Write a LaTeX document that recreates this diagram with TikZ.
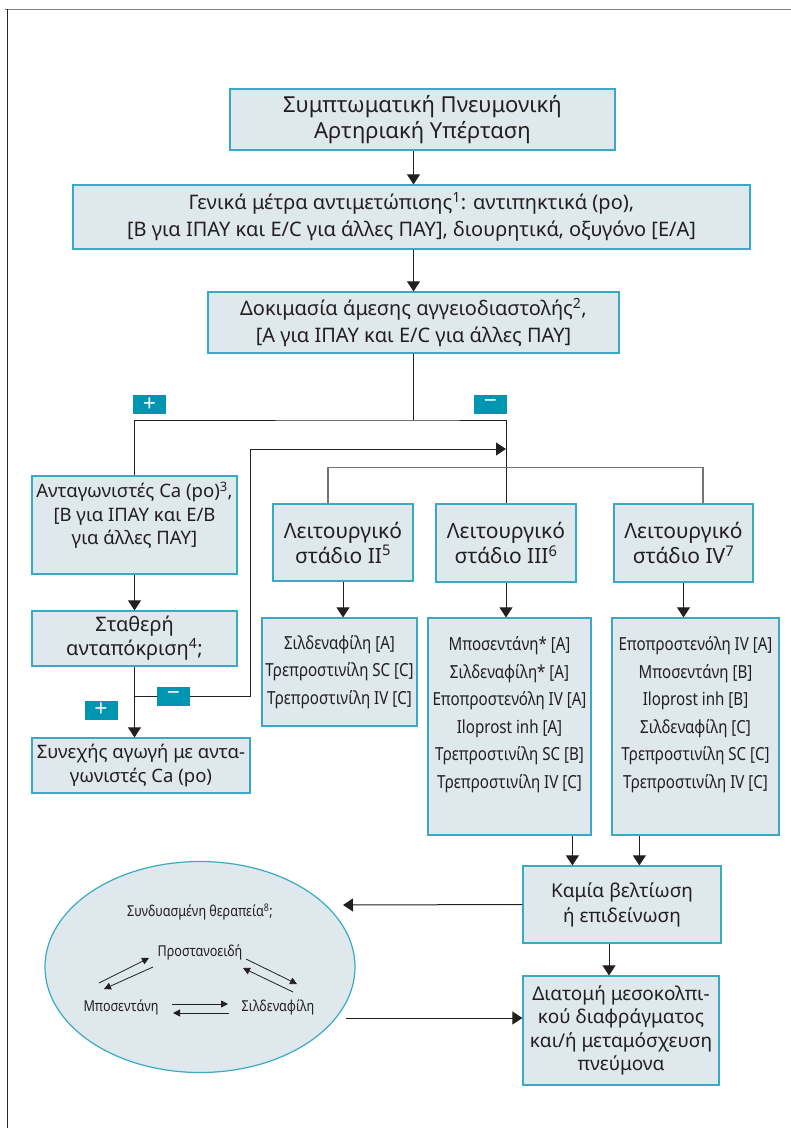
\documentclass[tikz,border=0pt]{standalone}
\usepackage{fontspec}
\setmainfont{Noto Sans}
\newfontfamily\narrowfont[FakeStretch=0.84]{Noto Sans}
\usetikzlibrary{arrows.meta,shapes.geometric}
\definecolor{boxfill}{HTML}{DFE8ED}
\definecolor{boxline}{HTML}{3AAAC4}
\definecolor{badgefill}{HTML}{0096B1}
\definecolor{ink}{HTML}{231F20}
\begin{document}
\begin{tikzpicture}[x=1pt,y=-1pt,
  box/.style={draw=boxline,line width=1.2pt,fill=boxfill,text=ink,align=center,inner sep=2pt,font=\fontsize{21}{25}\selectfont},
  listbox/.style={box,font=\narrowfont\fontsize{18}{27.5}\selectfont},
  small/.style={text=ink,inner sep=2pt,font=\narrowfont\fontsize{15}{18}\selectfont},
  badge/.style={fill=badgefill,text=white,minimum width=33pt,minimum height=19pt,inner sep=0pt,font=\bfseries\fontsize{23}{23}\selectfont},
  wire/.style={line width=1pt,draw=ink},
  greywire/.style={line width=1.4pt,draw=black!55},
  arr/.style={wire,-{Triangle[width=13pt,length=10pt]}},
  sarr/.style={line width=0.8pt,draw=ink,-{Triangle[width=7pt,length=7pt]}}]
\useasboundingbox (0,0) rectangle (791,1128);
\draw[black!50,line width=1pt] (5,9) -- (791,9);
\draw[black!85,line width=1pt] (7,9) -- (7,1128);

% main column
\node[box,minimum width=385pt,minimum height=61pt,font=\fontsize{22}{26}\selectfont] (b1) at (422.5,119.5)
  {Συμπτωματική Πνευμονική\\Αρτηριακή Υπέρταση};
\node[box,minimum width=677pt,minimum height=64pt,font=\fontsize{20}{27}\selectfont] (b2) at (411.5,217)
  {Γενικά μέτρα αντιμετώπισης\textsuperscript{1}: αντιπηκτικά (po),\\{}%
   [B για ΙΠΑΥ και E/C για άλλες ΠΑΥ], διουρητικά, οξυγόνο [E/A]};
\node[box,minimum width=411pt,minimum height=61pt,font=\fontsize{20}{27}\selectfont] (b3) at (413.5,322.5)
  {Δοκιμασία άμεσης αγγειοδιαστολής\textsuperscript{2},\\{}%
   [A για ΙΠΑΥ και E/C για άλλες ΠΑΥ]};

% left branch
\node[box,minimum width=205pt,minimum height=98pt,font=\fontsize{18.5}{23.5}\selectfont] (ca) at (134.5,525)
  {Ανταγωνιστές Ca (po)\textsuperscript{3},\\{}[B για ΙΠΑΥ και E/B\\για άλλες ΠΑΥ]\\\mbox{}};
\node[box,minimum width=205pt,minimum height=55pt,font=\fontsize{20}{24}\selectfont] (st) at (134.5,638.5)
  {Σταθερή\\ανταπόκριση\textsuperscript{4};};
\node[box,minimum width=218pt,minimum height=55pt,font=\fontsize{18.5}{24}\selectfont] (cont) at (141,765.5)
  {Συνεχής αγωγή με αντα-\\γωνιστές Ca (po)};

% functional stages
\node[box,minimum width=140pt,minimum height=77pt] (s2) at (343,542.5)
  {Λειτουργικό\\στάδιο II\textsuperscript{5}};
\node[box,minimum width=140pt,minimum height=78pt] (s3) at (506,543)
  {Λειτουργικό\\στάδιο III\textsuperscript{6}};
\node[box,minimum width=139pt,minimum height=78pt] (s4) at (683.5,543)
  {Λειτουργικό\\στάδιο IV\textsuperscript{7}};
\node[listbox,minimum width=155pt,minimum height=108pt] (l2) at (339.5,672)
  {Σιλδεναφίλη [A]\\Τρεπροστινίλη SC [C]\\Τρεπροστινίλη IV [C]};
\node[listbox,minimum width=163pt,minimum height=217pt] (l3) at (509.5,726.5)
  {Μποσεντάνη* [A]\\Σιλδεναφίλη* [A]\\Εποπροστενόλη IV [A]\\Iloprost inh [A]\\
   Τρεπροστινίλη SC [B]\\Τρεπροστινίλη IV [C]\\\mbox{}};
\node[listbox,minimum width=167pt,minimum height=217pt] (l4) at (695.5,726.5)
  {Εποπροστενόλη IV [A]\\Μποσεντάνη [B]\\Iloprost inh [B]\\Σιλδεναφίλη [C]\\
   Τρεπροστινίλη SC [C]\\Τρεπροστινίλη IV [C]\\\mbox{}};

% bottom
\node[box,minimum width=198pt,minimum height=77pt,font=\fontsize{19}{25}\selectfont] (nb) at (622,904.5)
  {Καμία βελτίωση\\ή επιδείνωση};
\node[box,minimum width=196pt,minimum height=109pt,font=\fontsize{19}{23.5}\selectfont] (tr) at (621,1030.5)
  {Διατομή μεσοκολπι-\\κού διαφράγματος\\και/ή μεταμόσχευση\\πνεύμονα};
\node[ellipse,draw=boxline,line width=1.2pt,fill=boxfill,minimum width=310pt,minimum height=211pt,inner sep=0pt] (comb) at (200,967) {};
\node[small] (combt) at (200,912) {Συνδυασμένη θεραπεία\textsuperscript{8};};
\node[small] (prosta) at (200,952) {Προστανοειδή};
\node[small] (bos) at (121,1007) {Μποσεντάνη};
\node[small] (sil) at (278,1007) {Σιλδεναφίλη};

% connectors
\draw[arr] (b1.south -| b3.south) -- (b2.north -| b3.south);
\draw[arr] (b2.south -| b3.south) -- (b3.north);
\coordinate (fork) at (b3.south |- 0,420);
\draw[wire] (b3.south) -- (fork);
\draw[wire] (ca.north) |- (fork) -| (s3.north);
\coordinate (s2top) at ([xshift=-15pt]s2.north);
\coordinate (s4top) at ([xshift=19.5pt]s4.north);
\draw[greywire] (s2top) -- ++(0,-36) -| (s4top);
\draw[arr] (ca.south) -- (st.north);
\draw[arr] (st.south) -- (st.south |- cont.north);
\coordinate (back) at (st.south |- 0,696);
\draw[arr] (back) -- ++(116,0) |- (s3.north |- 0,449);
\draw[arr] (s2.south) -- (s2.south |- l2.north);
\draw[arr] (s3.south) -- (s3.south |- l3.north);
\draw[arr] (s4.south) -- (s4.south |- l4.north);
\coordinate (in3) at ([xshift=50pt]nb.north west);
\coordinate (in4) at ([xshift=117pt]nb.north west);
\draw[arr] (l3.south -| in3) -- (in3);
\draw[arr] (l4.south -| in4) -- (in4);
\coordinate (tocomb) at (343,905);
\draw[arr] (nb.west) -- (tocomb);
\coordinate (down) at ([xshift=-13pt]nb.south);
\draw[arr] (down) -- (down |- tr.north);
\coordinate (fromcomb) at (346,1018);
\draw[arr] (fromcomb) -- (fromcomb -| tr.west);

% combination arrows
\draw[sarr] ([shift={(-22,-24)}]bos.center) -- ([shift={(-51,6)}]prosta.center);
\draw[sarr] ([shift={(-47,15)}]prosta.center) -- ([shift={(-17,-18)}]bos.center);
\draw[sarr] ([shift={(46,7)}]prosta.center) -- ([shift={(19,-23)}]sil.center);
\draw[sarr] ([shift={(15,-15)}]sil.center) -- ([shift={(43,16)}]prosta.center);
\draw[sarr] ([shift={(51,-3)}]bos.center) -- ([shift={(-50,-3)}]sil.center);
\draw[sarr] ([shift={(-49,6)}]sil.center) -- ([shift={(52,6)}]bos.center);

% badges
\node[badge] (p1) at (149.5,404.5) {+};
\node[badge] (m1) at (490.5,404.5) {−};
\node[badge] (m2) at (173.5,696) {−};
\node[badge] (p2) at (101,710) {+};
\end{tikzpicture}
\end{document}
